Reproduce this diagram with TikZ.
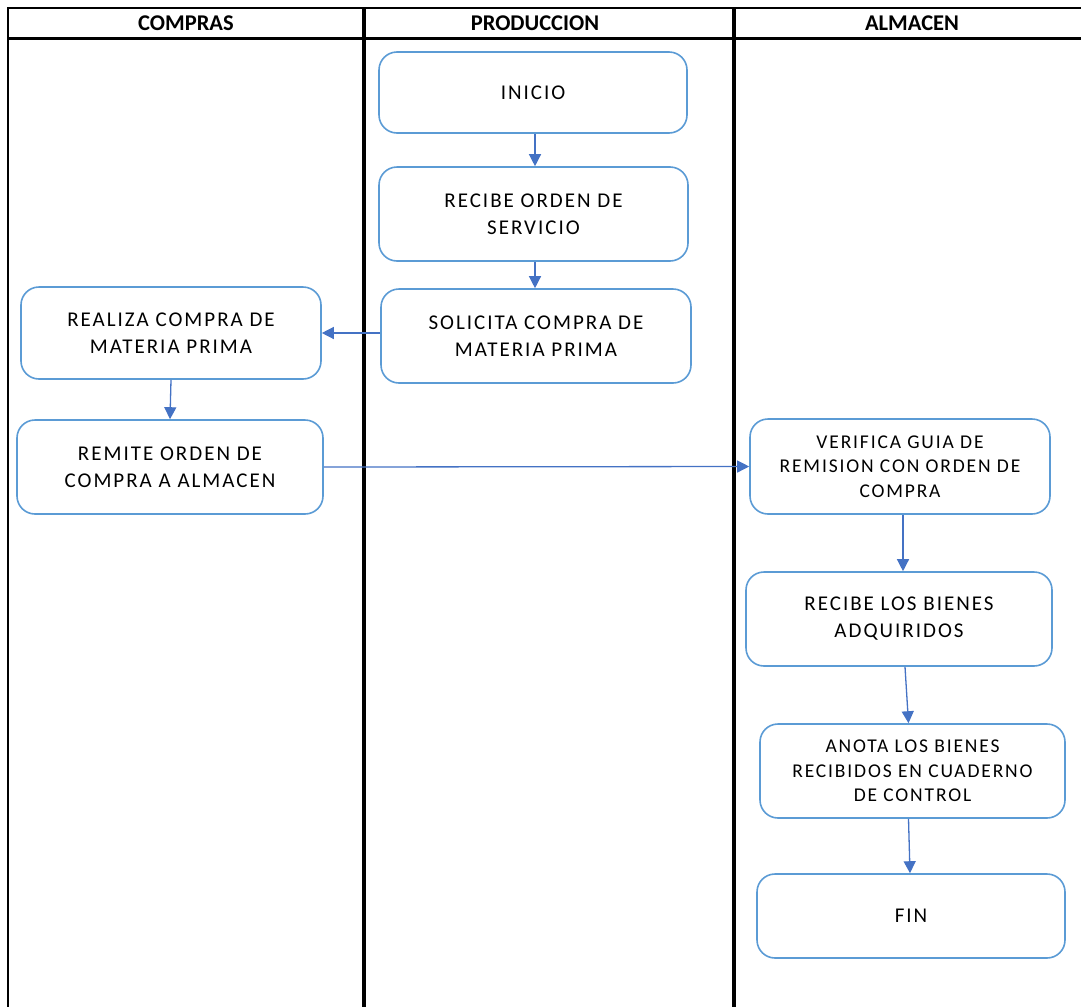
\documentclass[tikz,border=0pt]{standalone}
\usepackage{fontspec}
\setmainfont{Carlito}
\newfontfamily\cajafont{Carlito}[LetterSpace=9.5]
\usetikzlibrary{arrows.meta}

\begin{document}
\begin{tikzpicture}[x=1pt,y=-1pt,
    caja/.style={draw=cajaazul,line width=1.6pt,rounded corners=18pt,
        inner sep=0pt,align=center,text=black,
        font=\cajafont\fontsize{21}{27}\selectfont},
    cajachica/.style={caja,font=\cajafont\fontsize{19.5}{24.5}\selectfont},
    flecha/.style={draw=flechaazul,line width=1.3pt,
        -{Triangle[length=12pt,width=12pt]}},
    carril/.style={line width=3.5pt},
    titulo/.style={font=\bfseries\fontsize{22.5}{24}\selectfont}]
    \definecolor{cajaazul}{RGB}{91,155,213}
    \definecolor{flechaazul}{RGB}{68,114,196}
    \useasboundingbox (0,0) rectangle (1081,1007);

    % lanes
    \draw[line width=2pt] (8,8)--(1081,8);
    \draw[line width=3pt] (8,38)--(1081,38);
    \draw[line width=2pt] (8,7)--(8,1007);
    \draw[carril] (364,7)--(364,1007);
    \draw[carril] (734,7)--(734,1007);

    \node[titulo] (compras) at (186,23) {COMPRAS};
    \node[titulo] (produccion) at (535,23) {PRODUCCION};
    \node[titulo] (almacen) at (912,23) {ALMACEN};

    % boxes
    \node[caja,minimum width=308pt,minimum height=81pt]
        (inicio) at (533,92.5) {INICIO};
    \node[caja,minimum width=309pt,minimum height=94pt]
        (recibe) at (533.5,214) {RECIBE ORDEN DE\\SERVICIO};
    \node[caja,minimum width=310pt,minimum height=94pt]
        (solicita) at (536,336) {SOLICITA COMPRA DE\\MATERIA PRIMA};
    \node[caja,minimum width=300pt,minimum height=92pt]
        (realiza) at (171,333) {REALIZA COMPRA DE\\MATERIA PRIMA};
    \node[caja,minimum width=306pt,minimum height=94pt]
        (remite) at (170,467) {REMITE ORDEN DE\\COMPRA A ALMACEN};
    \node[cajachica,minimum width=300pt,minimum height=95pt]
        (verifica) at (900,466.5) {VERIFICA GUIA DE\\REMISION CON ORDEN DE\\COMPRA};
    \node[caja,minimum width=306pt,minimum height=94pt]
        (bienes) at (899,619) {RECIBE LOS BIENES\\ADQUIRIDOS};
    \node[cajachica,minimum width=305pt,minimum height=94pt]
        (anota) at (912.5,771) {ANOTA LOS BIENES\\RECIBIDOS EN CUADERNO\\DE CONTROL};
    \node[caja,minimum width=308pt,minimum height=84pt]
        (fin) at (911,916) {FIN};

    % arrows
    \draw[flecha] ([xshift=2pt]inicio.south)--([xshift=1.5pt]recibe.north);
    \draw[flecha] ([xshift=1.5pt]recibe.south)--([xshift=-1pt]solicita.north);
    \draw[flecha] (realiza.east -| solicita.west)--(realiza.east);
    \draw[flecha] (realiza.south)--(remite.north);
    \draw[flecha] (remite.east)--(verifica.west);
    \draw[flecha] ([xshift=3pt]verifica.south)--([xshift=4pt]bienes.north);
    \draw[flecha] ([xshift=6pt]bienes.south)--([xshift=-4pt]anota.north);
    \draw[flecha] ([xshift=-4pt]anota.south)--([xshift=-1pt]fin.north);
\end{tikzpicture}
\end{document}
